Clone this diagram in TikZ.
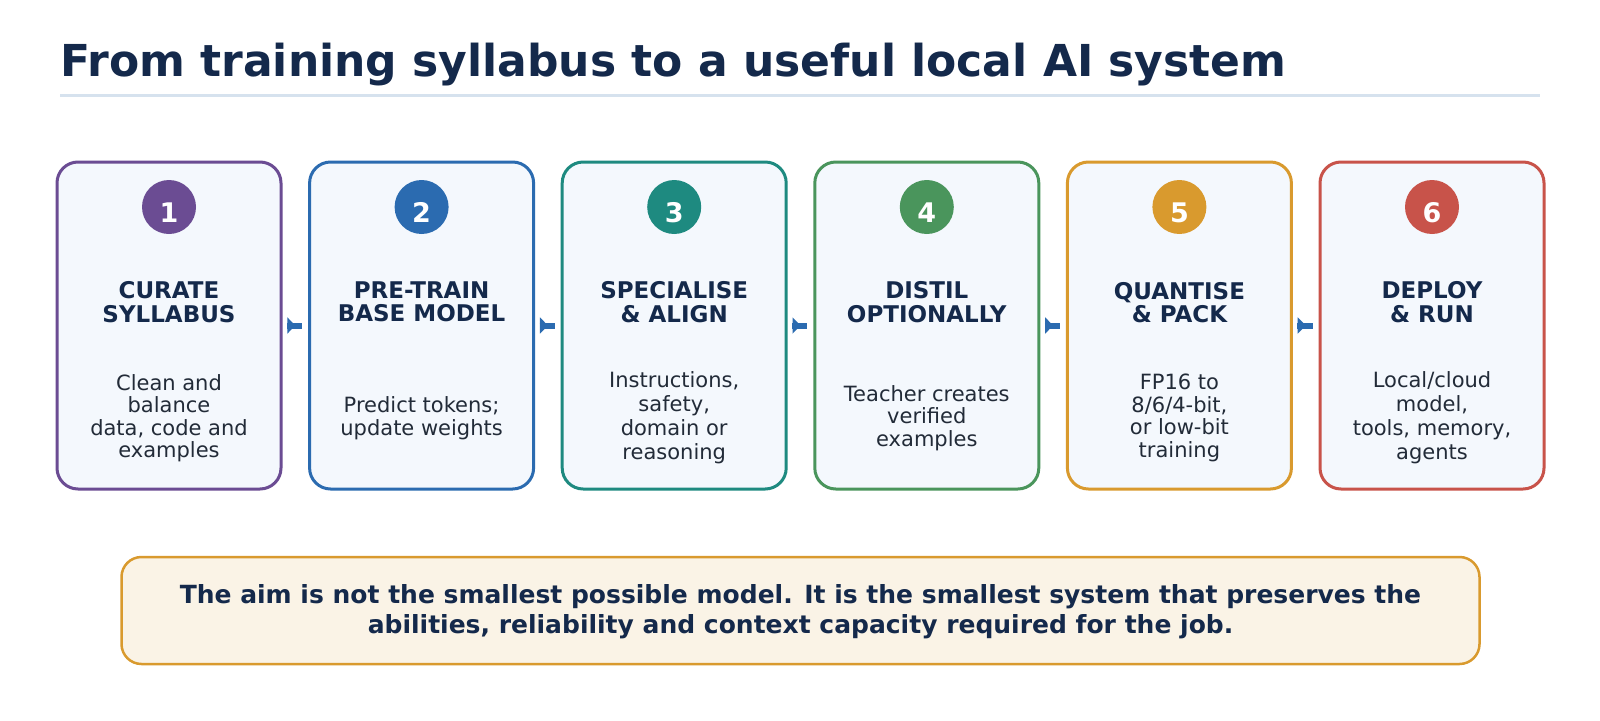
\documentclass[tikz,border=0pt]{standalone}
\usepackage{fontspec}
\setmainfont{DejaVu Sans}
\usetikzlibrary{arrows.meta,decorations.markings,calc}
\definecolor{navy}{HTML}{14294B}
\definecolor{rulecol}{HTML}{D6E2EE}
\definecolor{boxfill}{HTML}{F4F8FD}
\definecolor{bodygray}{HTML}{222B38}
\definecolor{cpurple}{HTML}{6B4C93}
\definecolor{cblue}{HTML}{2B6BB0}
\definecolor{cteal}{HTML}{1E8A80}
\definecolor{cgreen}{HTML}{4A955C}
\definecolor{corange}{HTML}{D99A2E}
\definecolor{cred}{HTML}{C8534A}
\definecolor{notefill}{HTML}{FAF3E6}
\begin{document}
\begin{tikzpicture}[x=1pt,y=-1pt,
  stepbox/.style={draw, line width=3pt, rounded corners=21pt, fill=boxfill,
    minimum width=224pt, minimum height=327pt, inner sep=0pt},
  badge/.style={circle, minimum size=54pt, inner sep=0pt},
  numtxt/.style={anchor=base, text=white, inner sep=0pt,
    font=\fontsize{27}{30}\selectfont\bfseries},
  headtxt/.style={align=center, text=navy, inner sep=0pt,
    font=\fontsize{23}{23.5}\selectfont\bfseries},
  bodytxt/.style={align=center, text=bodygray, inner sep=0pt,
    font=\fontsize{21}{22.5}\selectfont},
  flow/.style={draw=cblue, line width=6pt,
    postaction={decorate, decoration={markings, mark=at position 0.55 with
      {\arrow[cblue]{Triangle[length=8pt,width=16pt]}}}}}
]
\useasboundingbox[fill=white] (0,0) rectangle (1600,720);

% title
\node[anchor=base west, inner sep=0pt, text=navy,
  font=\fontsize{44}{52}\selectfont\bfseries] (title) at (60,76.5)
  {From training syllabus to a useful local AI system};
\draw[rulecol, line width=3pt] (60,95) -- (1540,95);

% boxes
\node[stepbox, draw=cpurple] (b1) at (169,325.5) {};
\node[stepbox, draw=cblue]   (b2) at (421.6,325.5) {};
\node[stepbox, draw=cteal]   (b3) at (674.2,325.5) {};
\node[stepbox, draw=cgreen]  (b4) at (926.8,325.5) {};
\node[stepbox, draw=corange] (b5) at (1179.4,325.5) {};
\node[stepbox, draw=cred]    (b6) at (1432,325.5) {};

% badges
\node[badge, fill=cpurple] (c1) at (169,207) {};
\node[badge, fill=cblue]   (c2) at (421.6,207) {};
\node[badge, fill=cteal]   (c3) at (674.2,207) {};
\node[badge, fill=cgreen]  (c4) at (926.8,207) {};
\node[badge, fill=corange] (c5) at (1179.4,207) {};
\node[badge, fill=cred]    (c6) at (1432,207) {};
\node[numtxt] (d1) at (169,222.5) {1};
\node[numtxt] (d2) at (421.6,222.5) {2};
\node[numtxt] (d3) at (674.2,222.5) {3};
\node[numtxt] (d4) at (926.8,222.5) {4};
\node[numtxt] (d5) at (1179.4,222.5) {5};
\node[numtxt] (d6) at (1432,222.5) {6};

% headings
\node[headtxt] (h1) at (169,302) {CURATE\\SYLLABUS};
\node[headtxt] (h2) at (421.6,302) {PRE-TRAIN\\BASE MODEL};
\node[headtxt] (h3) at (674.2,302) {SPECIALISE\\\& ALIGN};
\node[headtxt] (h4) at (926.8,302) {DISTIL\\OPTIONALLY};
\node[headtxt] (h5) at (1179.4,302.5) {QUANTISE\\\& PACK};
\node[headtxt] (h6) at (1432,302) {DEPLOY\\\& RUN};

% body texts
\node[bodytxt] (t1) at (169,418) {Clean and\\balance\\data, code and\\examples};
\node[bodytxt] (t2) at (421.6,418) {Predict tokens;\\update weights};
\node[bodytxt, font=\fontsize{21}{24}\selectfont] (t3) at (674.2,418) {Instructions,\\safety,\\domain or\\reasoning};
\node[bodytxt] (t4) at (926.8,418) {Teacher creates\\verified\\examples};
\node[bodytxt] (t5) at (1179.4,418) {FP16 to\\8/6/4-bit,\\or low-bit\\training};
\node[bodytxt, font=\fontsize{21}{24}\selectfont] (t6) at (1432,418) {Local/cloud\\model,\\tools, memory,\\agents};

% connectors
\foreach \a/\b in {b1/b2, b2/b3, b3/b4, b4/b5, b5/b6}
  \path[flow] ($(\a.east)+(4.5,0)$) -- ($(\b.west)+(-6,0)$);

% note
\node[draw=corange, fill=notefill, line width=2.5pt, rounded corners=20pt,
  minimum width=1358pt, minimum height=107pt, inner sep=0pt] (note) at (800.5,610.5) {};
\node[align=center, text=navy, inner sep=0pt,
  font=\fontsize{25}{30}\selectfont\bfseries] (notetxt) at (800.5,611.5)
  {The aim is not the smallest possible model. It is the smallest system that preserves the\\abilities, reliability and context capacity required for the job.};
\end{tikzpicture}
\end{document}
